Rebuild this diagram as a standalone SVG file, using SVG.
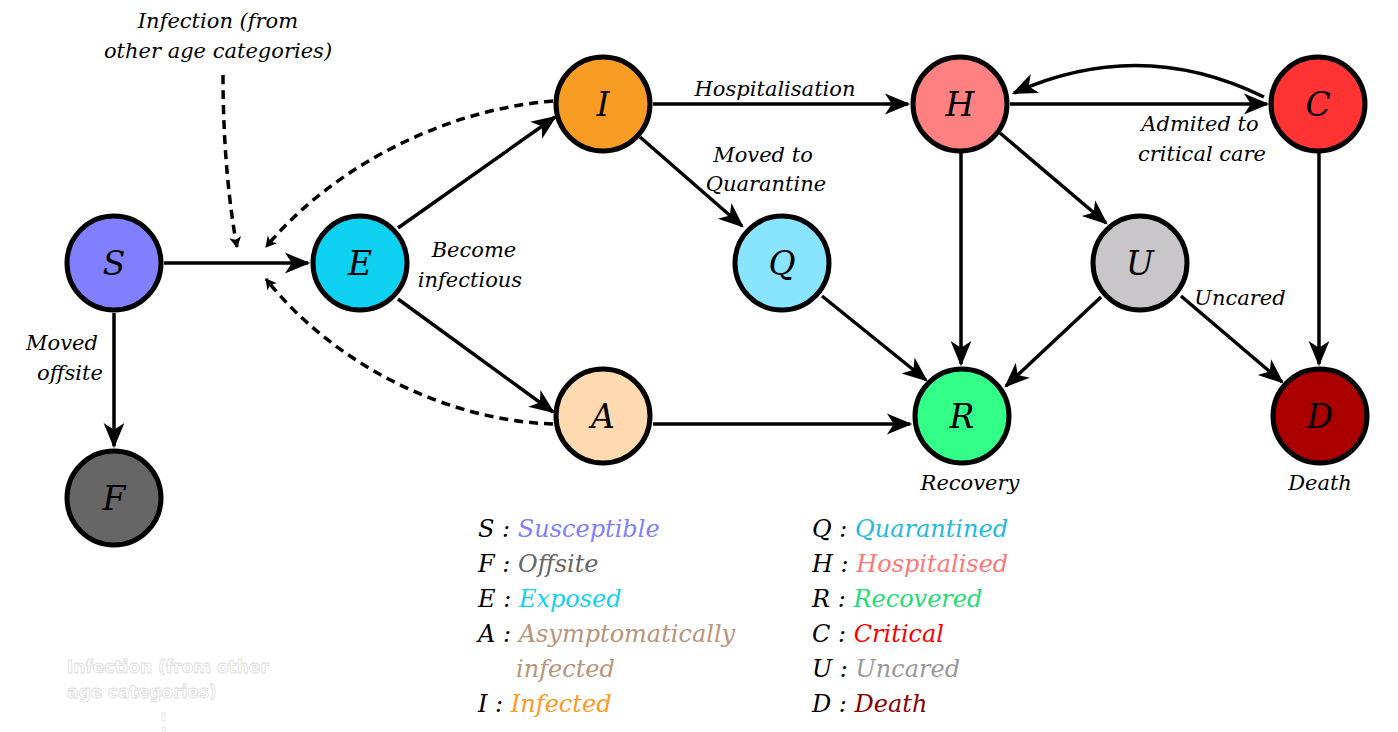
<svg xmlns="http://www.w3.org/2000/svg" width="1398" height="732" viewBox="0 0 1398 732">
<style>
text{font-family:"DejaVu Serif","Liberation Serif",serif;font-style:italic;}
.node circle{stroke:#000;stroke-width:5;}
.nl{font-size:33px;text-anchor:middle;fill:#000;}
.lbl{font-size:21px;fill:#000;}
.c{text-anchor:middle;}
.edge{fill:none;stroke:#000;stroke-width:3.5;marker-end:url(#ah);}
.dash{fill:none;stroke:#000;stroke-width:3.5;stroke-dasharray:9 6;marker-end:url(#ahs);}
.lg{font-size:24px;fill:#000;}
.ghost{font-family:"DejaVu Sans",sans-serif;font-style:normal;font-weight:bold;font-size:17px;fill:#fff;stroke:#dcdcdc;stroke-width:0.8;}
</style>
<defs>
<marker id="ah" markerUnits="userSpaceOnUse" markerWidth="30" markerHeight="30" viewBox="-22 -12 26 24" refX="0" refY="0" orient="auto">
<path d="M 2 0 L -20 -9 L -14 0 L -20 9 Z" fill="#000"/>
</marker>
<marker id="ahs" markerUnits="userSpaceOnUse" markerWidth="16" markerHeight="16" viewBox="-12 -8 14 16" refX="0" refY="0" orient="auto">
<path d="M 1 0 L -10 -6 L -7 0 L -10 6 Z" fill="#000"/>
</marker>
</defs>

<g id="connectors">
<line class="edge" x1="164" y1="263" x2="308" y2="263"/>
<line class="edge" x1="114" y1="313" x2="114" y2="446"/>
<line class="edge" x1="398" y1="228" x2="555" y2="117"/>
<line class="edge" x1="398" y1="299" x2="553" y2="412"/>
<line class="edge" x1="653" y1="104" x2="908" y2="104"/>
<line class="edge" x1="640" y1="137" x2="742" y2="226"/>
<line class="edge" x1="1010" y1="104" x2="1267" y2="104"/>
<path class="edge" d="M 1264 97 Q 1140 36 1014 93"/>
<line class="edge" x1="961" y1="153" x2="961" y2="364"/>
<line class="edge" x1="1000" y1="133" x2="1106" y2="223"/>
<line class="edge" x1="1319" y1="153" x2="1319" y2="364"/>
<line class="edge" x1="1181" y1="296" x2="1282" y2="382"/>
<line class="edge" x1="1101" y1="297" x2="1006" y2="386"/>
<line class="edge" x1="822" y1="296" x2="926" y2="380"/>
<line class="edge" x1="653" y1="424" x2="910" y2="424"/>
<path class="dash" d="M 553 101 C 440 110, 330 170, 266 247"/>
<path class="dash" d="M 553 424 C 440 420, 330 360, 266 279"/>
<path class="dash" d="M 223 75 C 223 150, 230 210, 237 247"/>
</g>

<g id="node-S" class="node"><circle cx="114" cy="263" r="47" fill="#8080ff"/><text class="nl" x="114" y="275">S</text></g>
<g id="node-F" class="node"><circle cx="114" cy="498" r="47" fill="#666666"/><text class="nl" x="114" y="510">F</text></g>
<g id="node-E" class="node"><circle cx="360" cy="263" r="47" fill="#0fd1f2"/><text class="nl" x="360" y="275">E</text></g>
<g id="node-I" class="node"><circle cx="603" cy="104" r="47" fill="#f99c24"/><text class="nl" x="603" y="116">I</text></g>
<g id="node-A" class="node"><circle cx="603" cy="416" r="47" fill="#ffd9b0"/><text class="nl" x="603" y="428">A</text></g>
<g id="node-Q" class="node"><circle cx="782" cy="263" r="47" fill="#88e4ff"/><text class="nl" x="782" y="275">Q</text></g>
<g id="node-H" class="node"><circle cx="960" cy="104" r="47" fill="#ff8080"/><text class="nl" x="960" y="116">H</text></g>
<g id="node-C" class="node"><circle cx="1318" cy="104" r="47" fill="#ff3333"/><text class="nl" x="1318" y="116">C</text></g>
<g id="node-U" class="node"><circle cx="1140" cy="263" r="47" fill="#c8c6c8"/><text class="nl" x="1140" y="275">U</text></g>
<g id="node-R" class="node"><circle cx="962" cy="416" r="47" fill="#33ff88"/><text class="nl" x="962" y="428">R</text></g>
<g id="node-D" class="node"><circle cx="1320" cy="416" r="47" fill="#aa0000"/><text class="nl" x="1320" y="428">D</text></g>

<g id="labels">
<text class="lbl c" x="218" y="28">Infection (from</text>
<text class="lbl c" x="218" y="58">other age categories)</text>
<text class="lbl c" x="62" y="350">Moved</text>
<text class="lbl c" x="70" y="380">offsite</text>
<text class="lbl c" x="474" y="257">Become</text>
<text class="lbl c" x="470" y="287">infectious</text>
<text class="lbl c" x="775" y="96">Hospitalisation</text>
<text class="lbl c" x="763" y="162">Moved to</text>
<text class="lbl c" x="766" y="191">Quarantine</text>
<text class="lbl c" x="1200" y="131">Admited to</text>
<text class="lbl c" x="1202" y="161">critical care</text>
<text class="lbl c" x="1240" y="305">Uncared</text>
<text class="lbl c" x="970" y="490">Recovery</text>
<text class="lbl c" x="1320" y="490">Death</text>
</g>

<g id="legend">
<text class="lg" x="478" y="537">S : <tspan fill="#8080ff">Susceptible</tspan></text>
<text class="lg" x="478" y="572">F : <tspan fill="#666666">Offsite</tspan></text>
<text class="lg" x="478" y="607">E : <tspan fill="#11d1f2">Exposed</tspan></text>
<text class="lg" x="478" y="642">A : <tspan fill="#b8957a">Asymptomatically</tspan></text>
<text class="lg" x="516" y="677"><tspan fill="#b8957a">infected</tspan></text>
<text class="lg" x="478" y="712">I : <tspan fill="#ff9922">Infected</tspan></text>
<text class="lg" x="812" y="537">Q : <tspan fill="#22bbdd">Quarantined</tspan></text>
<text class="lg" x="812" y="572">H : <tspan fill="#ff7777">Hospitalised</tspan></text>
<text class="lg" x="812" y="607">R : <tspan fill="#22dd77">Recovered</tspan></text>
<text class="lg" x="812" y="642">C : <tspan fill="#ff0000">Critical</tspan></text>
<text class="lg" x="812" y="677">U : <tspan fill="#999999">Uncared</tspan></text>
<text class="lg" x="812" y="712">D : <tspan fill="#880000">Death</tspan></text>
</g>

<g id="ghost">
<text class="ghost" x="67" y="673">Infection (from other</text>
<text class="ghost" x="67" y="698">age categories)</text>
<rect x="162" y="713" width="3" height="8" fill="#fff" stroke="#dcdcdc" stroke-width="0.8"/>
<rect x="162" y="727" width="3" height="5" fill="#fff" stroke="#dcdcdc" stroke-width="0.8"/>
</g>
</svg>
